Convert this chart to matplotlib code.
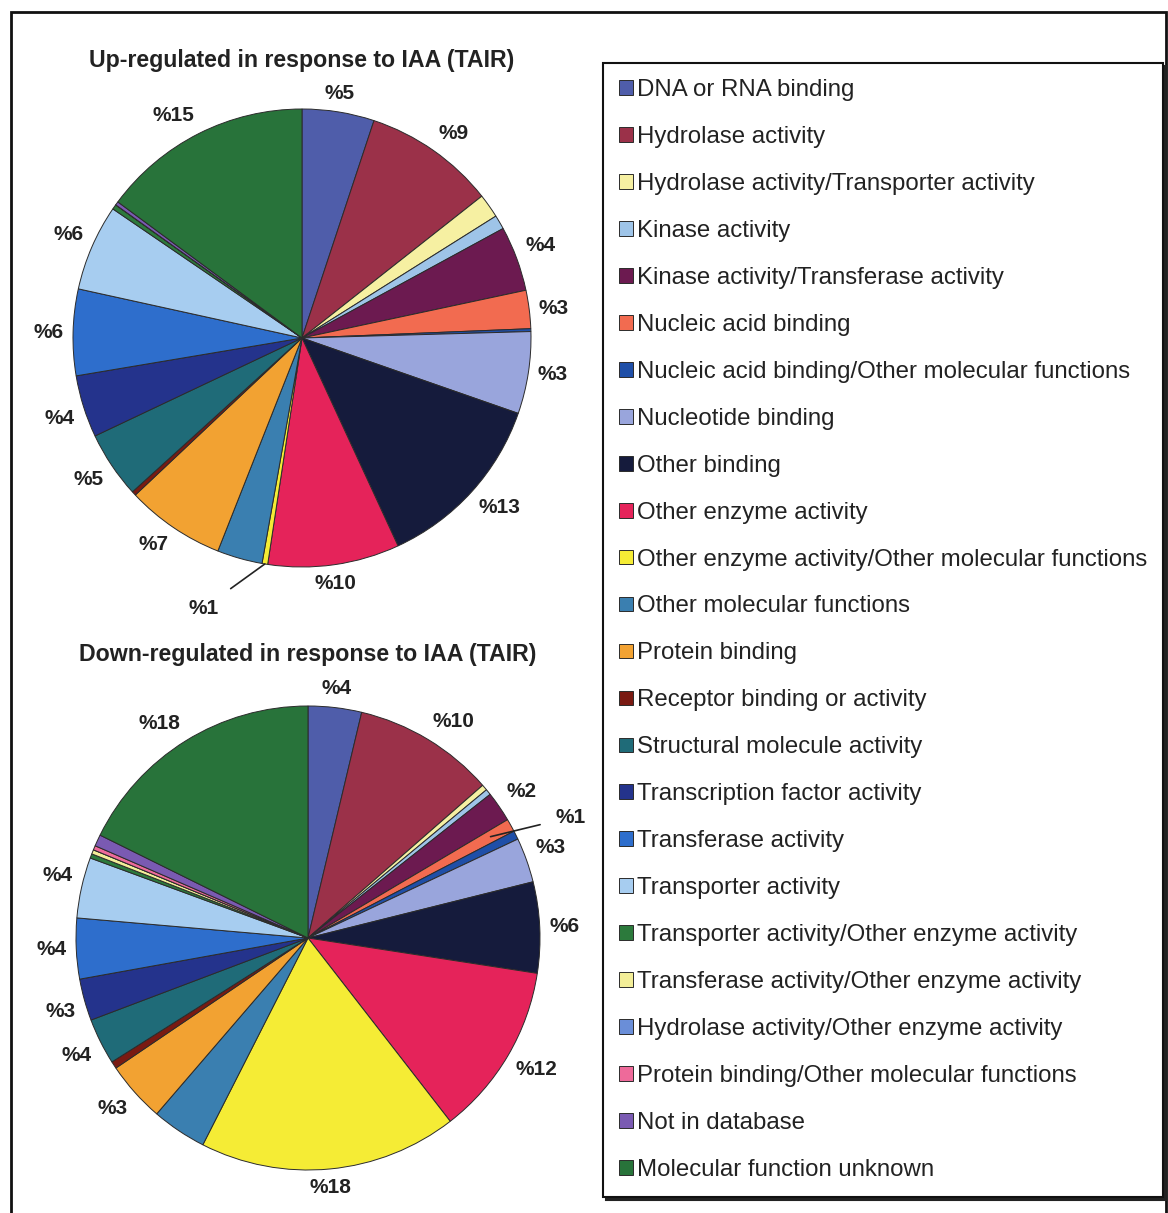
import numpy as np
import matplotlib.pyplot as plt
from matplotlib.patches import Rectangle

plt.rcParams['font.family'] = ['Liberation Sans', 'DejaVu Sans']

# legend order == slice order (clockwise from 12 o'clock)
categories = [
    "DNA or RNA binding",
    "Hydrolase activity",
    "Hydrolase activity/Transporter activity",
    "Kinase activity",
    "Kinase activity/Transferase activity",
    "Nucleic acid binding",
    "Nucleic acid binding/Other molecular functions",
    "Nucleotide binding",
    "Other binding",
    "Other enzyme activity",
    "Other enzyme activity/Other molecular functions",
    "Other molecular functions",
    "Protein binding",
    "Receptor binding or activity",
    "Structural molecule activity",
    "Transcription factor activity",
    "Transferase activity",
    "Transporter activity",
    "Transporter activity/Other enzyme activity",
    "Transferase activity/Other enzyme activity",
    "Hydrolase activity/Other enzyme activity",
    "Protein binding/Other molecular functions",
    "Not in database",
    "Molecular function unknown",
]

colors = [
    "#4F5DAA", "#9B3149", "#F6F0A2", "#9EC4E8", "#6C1A50", "#F26B50",
    "#1F4FA8", "#99A5DC", "#151B3C", "#E5235A", "#F5EC35", "#3A7FB0",
    "#F2A232", "#7A1A12", "#1F6B78", "#24338C", "#2E6ECC", "#A7CDF0",
    "#2C7A3C", "#F3EE98", "#6A8ED8", "#EE6A9A", "#7A5AB2", "#28733A",
]

up_values = [5.1, 9.3, 1.7, 1.0, 4.6, 2.7, 0.2, 5.8, 12.8, 9.3, 0.4, 3.2,
             7.0, 0.3, 4.7, 4.4, 6.1, 6.1, 0.35, 0.0, 0.0, 0.0, 0.25, 14.9]
down_values = [3.7, 9.8, 0.4, 0.4, 2.1, 0.9, 0.6, 3.1, 6.3, 12.0, 17.9, 3.8,
               4.2, 0.5, 3.2, 2.9, 4.2, 4.2, 0.3, 0.3, 0.0, 0.3, 0.8, 17.6]

up_labels = ["%5", "%9", "", "", "%4", "%3", "", "%3", "%13", "%10", "%1", "",
             "%7", "", "%5", "%4", "%6", "%6", "", "", "", "", "", "%15"]
down_labels = ["%4", "%10", "", "", "%2", "%1", "", "%3", "%6", "%12", "%18", "",
               "%3", "", "%4", "%3", "%4", "%4", "", "", "", "", "", "%18"]

W, H = 1168, 1213
fig = plt.figure(figsize=(W / 100, H / 100), dpi=100)


def add_pie(cx, cy, r, values, labels, title, title_y, leader):
    lim = 1.15
    side = 2 * lim * r
    ax = fig.add_axes([(cx - side / 2) / W, 1 - (cy + side / 2) / H, side / W, side / H])
    wedges, _ = ax.pie(values, colors=colors, startangle=90, counterclock=False,
                       wedgeprops=dict(edgecolor="#2b2b2b", linewidth=0.7))
    ax.set_xlim(-lim, lim)
    ax.set_ylim(-lim, lim)
    ax.set_aspect("equal")
    ax.axis("off")

    for i, (w, lab) in enumerate(zip(wedges, labels)):
        if not lab:
            continue
        ang = np.deg2rad((w.theta1 + w.theta2) / 2)
        x, y = np.cos(ang), np.sin(ang)
        if i in leader:
            tx, ty, ra = leader[i]
            ax.annotate(lab, xy=(ra * x, ra * y), xytext=(tx, ty),
                        ha="center", va="center", fontsize=15, fontweight="bold",
                        color="#222222",
                        arrowprops=dict(arrowstyle="-", color="#222222", lw=1.2,
                                        shrinkA=9, shrinkB=0))
            continue
        ha = "left" if x > 0.2 else ("right" if x < -0.2 else "center")
        va = "bottom" if y > 0.2 else ("top" if y < -0.2 else "center")
        ax.text(1.04 * x, 1.04 * y, lab, ha=ha, va=va, fontsize=15,
                fontweight="bold", color="#222222")

    fig.text(cx / W, 1 - title_y / H, title, ha="center", va="center",
             fontsize=16.7, fontweight="bold", color="#222222")
    return wedges


up_wedges = add_pie(302, 338, 229, up_values, up_labels,
                    "Up-regulated in response to IAA (TAIR)", 60,
                    {10: (-0.43, -1.18, 1.0)})
add_pie(308, 938, 232, down_values, down_labels,
        "Down-regulated in response to IAA (TAIR)", 655,
        {5: (1.13, 0.52, 0.9)})

leg = fig.legend(up_wedges, categories, loc="upper left",
                 bbox_to_anchor=(603 / W, 1 - 63 / H), fontsize=17.3,
                 handlelength=0.58, handleheight=0.58, handletextpad=0.2,
                 labelspacing=1.04, borderpad=0.65, borderaxespad=0,
                 fancybox=False, edgecolor="#111111", framealpha=1,
                 shadow={"color": "#222222", "alpha": 1, "ox": 2, "oy": -2})
leg.get_frame().set_linewidth(1.5)
for t in leg.get_texts():
    t.set_color("#222222")

# outer frame
fig.patches.append(Rectangle((11 / W, -0.02), (1166 - 11) / W, 1.02 - 12 / H,
                             transform=fig.transFigure, fill=False,
                             edgecolor="#111111", linewidth=2))

fig.savefig("out.png", dpi=100, facecolor="white")
